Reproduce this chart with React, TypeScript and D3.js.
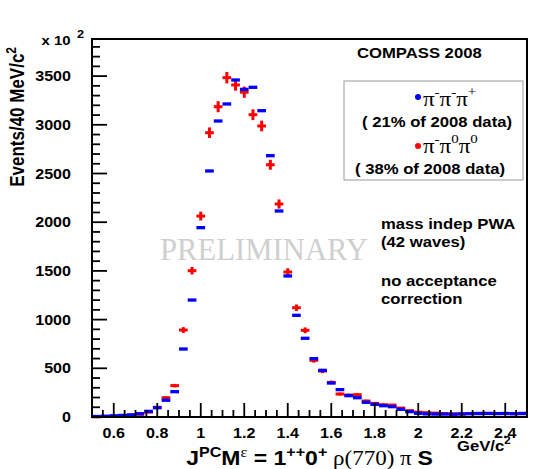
import React from "react";
import * as d3 from "d3";

const binCenters = [
  0.52, 0.56, 0.6, 0.64, 0.68, 0.72, 0.76, 0.8, 0.84, 0.88,
  0.92, 0.96, 1.0, 1.04, 1.08, 1.12, 1.16, 1.2, 1.24, 1.28,
  1.32, 1.36, 1.4, 1.44, 1.48, 1.52, 1.56, 1.6, 1.64, 1.68,
  1.72, 1.76, 1.8, 1.84, 1.88, 1.92, 1.96, 2.0, 2.04, 2.08,
  2.12, 2.16, 2.2, 2.24, 2.28, 2.32, 2.36, 2.4, 2.44, 2.48,
];

const chargedEvents = [
  5, 8, 12, 16, 22, 34, 58, 95, 172, 260,
  698, 1201, 1944, 2526, 3039, 3214, 3460, 3364, 3385, 3145,
  2683, 2115, 1448, 1044, 808, 599, 479, 349, 281, 219,
  198, 151, 130, 116, 106, 79, 55, 38, 32, 30,
  30, 28, 32, 34, 35, 36, 35, 36, 34, 35,
];

const neutralEvents = [
  3, 5, 8, 12, 18, 28, 50, 100, 198, 322,
  893, 1502, 2063, 2919, 3186, 3484, 3409, 3335, 3104, 2988,
  2590, 2187, 1489, 1122, 890, 582, 472, 355, 236, 225,
  229, 164, 140, 126, 123, 92, 65, 50, 45, 40,
  35, 32, 30, 35, 38, 38, 36, 35, 33, 38,
];

const binWidth = 0.04;
const xDomain = [0.5, 2.5];
const yDomain = [0, 3881];
const xMajorTicks = [0.6, 0.8, 1.0, 1.2, 1.4, 1.6, 1.8, 2.0, 2.2, 2.4];
const xTickLabels = ["0.6", "0.8", "1", "1.2", "1.4", "1.6", "1.8", "2", "2.2", "2.4"];
const yMajorTicks = [0, 500, 1000, 1500, 2000, 2500, 3000, 3500];

const SX = 1.15;
const SANS = "'Liberation Sans', Arial, Helvetica, sans-serif";
const SERIF = "'Liberation Serif', 'Times New Roman', serif";

type TProps = {
  x: number;
  y: number;
  size: number;
  anchor?: "start" | "middle" | "end";
  weight?: string;
  family?: string;
  fill?: string;
  children?: React.ReactNode;
};

const T = ({ x, y, size, anchor = "start", weight = "bold", family = SANS, fill = "#000", children }: TProps) => (
  <text
    transform={`translate(${x},${y}) scale(${SX},1)`}
    fontSize={size}
    fontFamily={family}
    fontWeight={weight}
    textAnchor={anchor}
    fill={fill}
  >
    {children}
  </text>
);

export default function App() {
  const left = 92, right = 527, top = 39, bottom = 417;
  const x = d3.scaleLinear().domain(xDomain).range([left, right]);
  const y = d3.scaleLinear().domain(yDomain).range([bottom, top]);

  const xMinor = d3.range(0.5, 2.5001, 0.05);
  const yMinor = d3.range(0, 3881, 100);

  const halfW = (x(binWidth) - x(0)) / 2;

  return (
    <svg width={538} height={469} style={{ position: "absolute", left: 0, top: 0, background: "#fff" }}>
      <rect x={0} y={0} width={538} height={469} fill="#fff" />

      {/* watermark */}
      <text
        x={160}
        y={260}
        fontSize={32.5}
        fontFamily={SERIF}
        fill="#cfcfcf"
        textLength={208}
        lengthAdjust="spacingAndGlyphs"
      >
        PRELIMINARY
      </text>

      {/* red series */}
      <g stroke="#ff0000" strokeWidth={3}>
        {binCenters.map((c, i) => {
          const v = neutralEvents[i];
          const e = Math.sqrt(v);
          return (
            <g key={"r" + i}>
              <line x1={x(c) - halfW} x2={x(c) + halfW} y1={y(v)} y2={y(v)} />
              <line x1={x(c)} x2={x(c)} y1={y(Math.max(0, v - e))} y2={y(v + e)} />
            </g>
          );
        })}
      </g>

      {/* blue series */}
      <g stroke="#0000ff" strokeWidth={3.3}>
        {binCenters.map((c, i) => {
          const v = chargedEvents[i];
          return <line key={"b" + i} x1={x(c) - halfW} x2={x(c) + halfW} y1={y(v)} y2={y(v)} />;
        })}
      </g>

      {/* ticks */}
      <g stroke="#000" strokeWidth={1.8}>
        {yMinor.map((t) => (
          <line key={"ym" + t} x1={left} x2={left + (t % 500 === 0 ? 15 : 8)} y1={y(t)} y2={y(t)} />
        ))}
        {xMinor.map((t, i) => {
          const major = xMajorTicks.some((m) => Math.abs(m - t) < 1e-6);
          return <line key={"xm" + i} x1={x(t)} x2={x(t)} y1={bottom} y2={bottom - (major ? 14 : 7)} />;
        })}
      </g>

      {/* frame */}
      <rect x={left} y={top} width={right - left} height={bottom - top} fill="none" stroke="#000" strokeWidth={2} />

      {/* y tick labels */}
      {yMajorTicks.map((t) => (
        <T key={"yl" + t} x={71} y={y(t) + 5} size={14} anchor="end">
          {t}
        </T>
      ))}
      {/* x tick labels */}
      {xMajorTicks.map((t, i) => (
        <T key={"xl" + t} x={x(t)} y={438} size={14} anchor="middle">
          {xTickLabels[i]}
        </T>
      ))}

      {/* exponent */}
      <T x={41.5} y={45} size={13}>x 10</T>
      <T x={77} y={38} size={11}>2</T>

      {/* y title */}
      <text
        transform={`translate(24,47) scale(${SX},1) rotate(-90)`}
        fontSize={17}
        fontFamily={SANS}
        fontWeight="bold"
        textAnchor="end"
      >
        Events/40 MeV/c
        <tspan fontSize={12} dy={-7}>2</tspan>
      </text>

      {/* x unit */}
      <T x={457} y={451} size={14.5}>
        GeV/c
        <tspan fontSize={10} dy={-7}>2</tspan>
      </T>

      {/* x title */}
      <T x={309.5} y={465} size={20} anchor="middle">
        J<tspan fontSize={14} dy={-8}>PC</tspan>
        <tspan dy={8}>M</tspan>
        <tspan fontSize={14} dy={-8} fontFamily={SERIF} fontWeight="normal">ε</tspan>
        <tspan dy={8}> = 1</tspan>
        <tspan fontSize={14} dy={-8}>++</tspan>
        <tspan dy={8}>0</tspan>
        <tspan fontSize={14} dy={-8}>+</tspan>
        <tspan dy={8} fontFamily={SERIF} fontWeight="normal"> ρ(770) π </tspan>
        <tspan>S</tspan>
      </T>

      {/* COMPASS */}
      <T x={357} y={58} size={14.5}>COMPASS 2008</T>

      {/* legend */}
      <rect x={344} y={81} width={179} height={99} fill="#fff" stroke="#999" strokeWidth={1} />
      <circle cx={418} cy={97} r={3} fill="#0000ff" />
      <T x={423} y={106} size={20} family={SERIF} weight="normal">
        π<tspan fontSize={13} dy={-10}>-</tspan>
        <tspan dy={10}>π</tspan>
        <tspan fontSize={13} dy={-10}>-</tspan>
        <tspan dy={10}>π</tspan>
        <tspan fontSize={13} dy={-10}>+</tspan>
      </T>
      <T x={437} y={127} size={14.5} anchor="middle">( 21% of 2008 data)</T>
      <circle cx={418} cy={146} r={3} fill="#ff0000" />
      <T x={423} y={153} size={20} family={SERIF} weight="normal">
        π<tspan fontSize={13} dy={-10}>-</tspan>
        <tspan dy={10}>π</tspan>
        <tspan fontSize={13} dy={-10}>0</tspan>
        <tspan dy={10}>π</tspan>
        <tspan fontSize={13} dy={-10}>0</tspan>
      </T>
      <T x={430} y={174} size={14.5} anchor="middle">( 38% of 2008 data)</T>

      {/* notes */}
      <T x={381} y={229} size={14.5}>mass indep PWA</T>
      <T x={381} y={247} size={14.5}>(42 waves)</T>
      <T x={381} y={286} size={14.5}>no acceptance</T>
      <T x={381} y={304} size={14.5}>correction</T>
    </svg>
  );
}
